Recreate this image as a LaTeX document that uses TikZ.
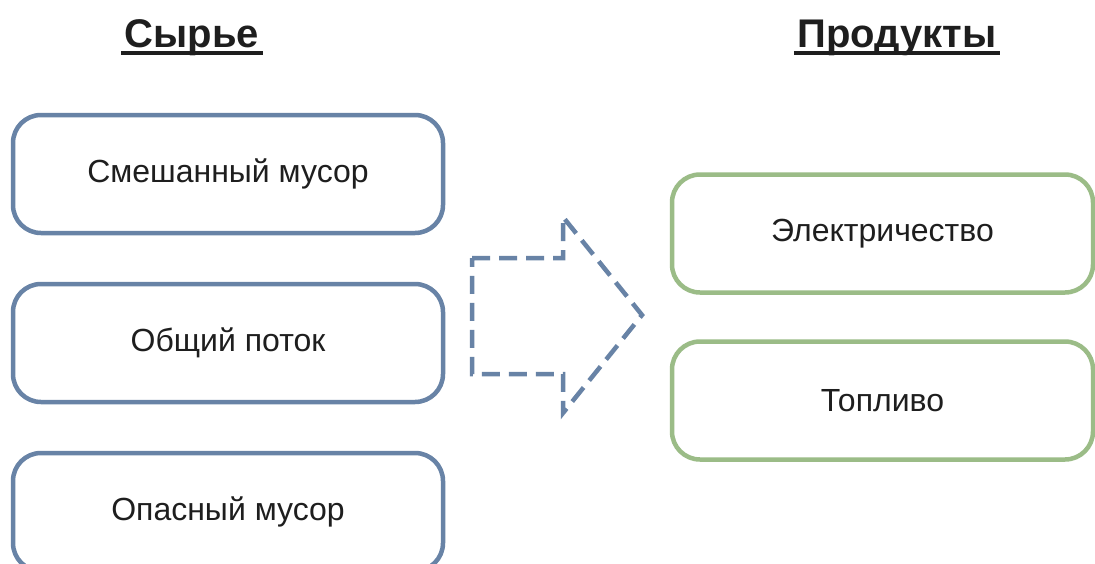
\documentclass[tikz,border=0pt]{standalone}
\usepackage{fontspec}
\setmainfont{Liberation Sans}
\usepackage{xcolor}
\usetikzlibrary{positioning}

\definecolor{rawblue}{RGB}{104,131,166}
\definecolor{prodgreen}{RGB}{155,188,135}
\definecolor{textgray}{RGB}{30,30,30}

\begin{document}
\begin{tikzpicture}[x=1pt, y=-1pt,
    box/.style={draw, line width=4.5pt, rounded corners=28pt, minimum width=430pt,
        minimum height=118pt, font=\fontsize{32}{36}\selectfont, text=textgray},
    rawbox/.style={box, draw=rawblue},
    prodbox/.style={box, draw=prodgreen, minimum width=421pt},
    title/.style={font=\bfseries\fontsize{40}{44}\selectfont, text=textgray}]

% Page frame
\clip (0, 0) rectangle (1095, 563);
\fill[white] (0, 0) rectangle (1095, 563);

% Column titles
\node[title, anchor=base] (rawtitle) at (192, 47) {Сырье};
\node[title, anchor=base] (prodtitle) at (897, 47) {Продукты};
\draw[line width=3.5pt, textgray] ([yshift=-6pt]rawtitle.base west) -- ([yshift=-6pt]rawtitle.base east);
\draw[line width=3.5pt, textgray] ([yshift=-6pt]prodtitle.base west) -- ([yshift=-6pt]prodtitle.base east);

% Raw materials
\node[rawbox] (mixed) at (228, 174) {Смешанный мусор};
\node[rawbox, below=46.5pt of mixed] (common) {Общий поток};
\node[rawbox, below=46.5pt of common] (hazard) {Опасный мусор};

% Products
\node[prodbox] (power) at (882.5, 233.5) {Электричество};
\node[prodbox, below=44.5pt of power] (fuel) {Топливо};

% Dashed process arrow
\draw[rawblue, line width=4.5pt, dash pattern=on 18pt off 9pt, line join=miter]
    (472, 258) -- (563, 258) -- (563, 217) -- (642, 315) -- (563, 413)
    -- (563, 374) -- (472, 374) -- cycle;

\end{tikzpicture}
\end{document}
